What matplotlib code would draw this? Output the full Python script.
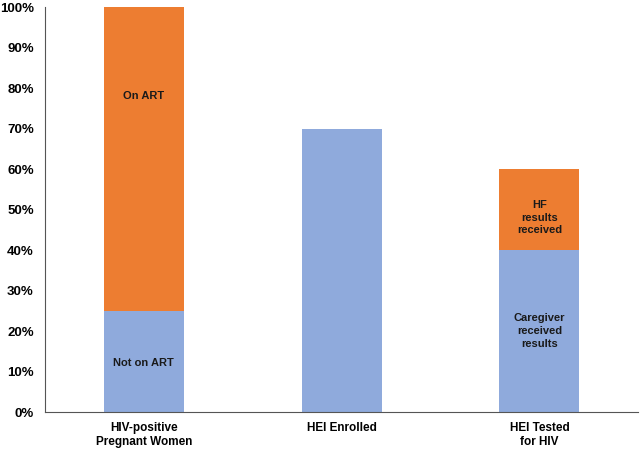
import matplotlib
matplotlib.use("Agg")
import matplotlib.pyplot as plt
from matplotlib.ticker import PercentFormatter

categories = ["HIV-positive\nPregnant Women", "HEI Enrolled", "HEI Tested\nfor HIV"]
lower_values = [25, 70, 40]
upper_values = [75, 0, 20]
lower_labels = ["Not on ART", "", "Caregiver\nreceived\nresults"]
upper_labels = ["On ART", "", "HF\nresults\nreceived"]
lower_label_y = [12, None, 20]
upper_label_y = [78, None, 48]

plt.rcParams['font.family'] = ['Liberation Sans', 'DejaVu Sans']

fig = plt.figure(figsize=(6.4, 4.5), dpi=100)
ax = fig.add_axes([0.0703, 0.0844, 0.927, 0.9])

blue = "#8FAADC"
orange = "#ED7D31"
x = list(range(len(categories)))
ax.bar(x, lower_values, width=0.405, color=blue, zorder=2)
ax.bar(x, upper_values, width=0.405, bottom=lower_values, color=orange, zorder=2)

for i in x:
    if lower_labels[i]:
        ax.text(i, lower_label_y[i], lower_labels[i], ha="center", va="center",
                fontsize=8, fontweight="bold", color="#1a1a1a", linespacing=1.35)
    if upper_labels[i]:
        ax.text(i, upper_label_y[i], upper_labels[i], ha="center", va="center",
                fontsize=8, fontweight="bold", color="#1a1a1a", linespacing=1.35)

ax.set_xlim(-0.5, 2.5)
ax.set_ylim(0, 100)
ax.set_yticks(range(0, 101, 10))
ax.yaxis.set_major_formatter(PercentFormatter(decimals=0))
ax.set_xticks(x)
ax.set_xticklabels(categories, fontsize=8.5, fontweight="bold", linespacing=1.25)
for lab in ax.get_yticklabels():
    lab.set_fontweight("bold")
    lab.set_fontsize(9.5)
ax.tick_params(axis="both", length=0)
ax.tick_params(axis="y", pad=8)
ax.tick_params(axis="x", pad=7)
for s in ["top", "right"]:
    ax.spines[s].set_visible(False)
ax.spines["left"].set_color("#555555")
ax.spines["bottom"].set_color("#555555")

fig.savefig("out.png", dpi=100)
